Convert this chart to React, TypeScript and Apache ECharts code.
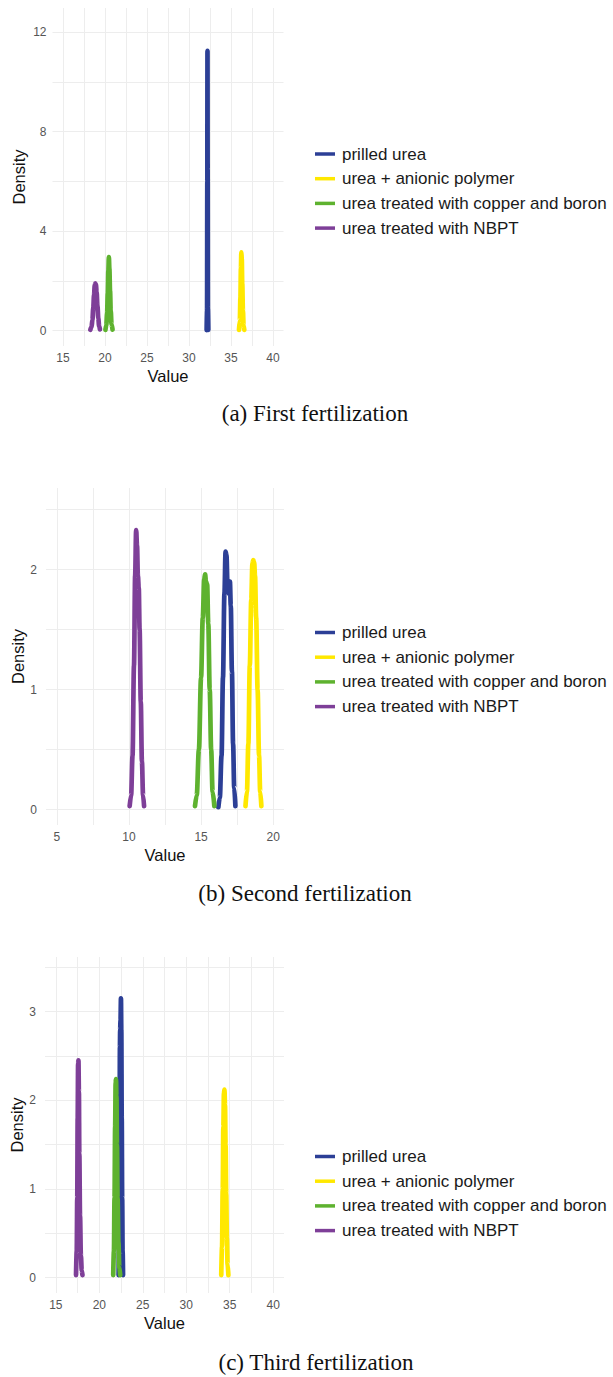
import React, { useEffect, useRef } from "react";
import * as echarts from "echarts";

// Treatment names (legend order) and colours
const treatments = [
  "prilled urea",
  "urea + anionic polymer",
  "urea treated with copper and boron",
  "urea treated with NBPT",
];
const colors = ["#2C3F96", "#FFE800", "#5EB22F", "#7E3F98"];

// Estimated density curves, [value, density]
// (a) First fertilization
const firstPrilled: number[][] = [
  [32.1, 0.02], [32.15, 0.8], [32.18, 6.0], [32.2, 11.25], [32.22, 6.5], [32.25, 0.9], [32.3, 0.03],
];
const firstPolymer: number[][] = [
  [35.95, 0.03], [36.05, 0.4], [36.12, 1.3], [36.18, 2.5], [36.23, 3.15], [36.28, 2.9],
  [36.34, 1.9], [36.42, 0.8], [36.5, 0.2], [36.58, 0.03],
];
const firstCopper: number[][] = [
  [20.05, 0.03], [20.15, 0.2], [20.25, 0.7], [20.33, 1.5], [20.4, 2.4], [20.46, 2.95],
  [20.52, 2.5], [20.6, 1.6], [20.68, 0.8], [20.78, 0.25], [20.9, 0.04],
];
const firstNBPT: number[][] = [
  [18.25, 0.03], [18.4, 0.15], [18.5, 0.42], [18.6, 0.9], [18.7, 1.45], [18.78, 1.82],
  [18.85, 1.9], [18.92, 1.84], [19.0, 1.55], [19.1, 1.0], [19.2, 0.5], [19.3, 0.18], [19.4, 0.05],
];

// (b) Second fertilization
const secondPrilled: number[][] = [
  [16.2, 0.02], [16.3, 0.1], [16.42, 0.45], [16.52, 1.1], [16.62, 1.8], [16.7, 2.15],
  [16.76, 2.12], [16.84, 1.85], [16.92, 1.8], [17.0, 1.9], [17.06, 1.7], [17.14, 1.15],
  [17.22, 0.55], [17.3, 0.18], [17.38, 0.03],
];
const secondPolymer: number[][] = [
  [18.08, 0.03], [18.18, 0.15], [18.28, 0.55], [18.38, 1.2], [18.48, 1.75], [18.56, 2.05],
  [18.62, 2.08], [18.68, 2.06], [18.74, 1.95], [18.82, 1.6], [18.92, 1.0], [19.02, 0.45],
  [19.1, 0.15], [19.18, 0.03],
];
const secondCopper: number[][] = [
  [14.58, 0.03], [14.7, 0.12], [14.85, 0.5], [15.0, 1.1], [15.12, 1.6], [15.22, 1.92],
  [15.28, 1.96], [15.34, 1.9], [15.42, 1.88], [15.5, 1.55], [15.6, 1.0], [15.7, 0.5],
  [15.8, 0.15], [15.92, 0.03],
];
const secondNBPT: number[][] = [
  [10.05, 0.03], [10.15, 0.12], [10.25, 0.45], [10.35, 1.2], [10.43, 1.95], [10.5, 2.33],
  [10.56, 2.2], [10.62, 1.95], [10.68, 1.85], [10.74, 1.5], [10.82, 0.9], [10.9, 0.4],
  [10.98, 0.12], [11.05, 0.03],
];

// (c) Third fertilization
const thirdPrilled: number[][] = [
  [22.22, 0.03], [22.28, 0.4], [22.33, 1.4], [22.37, 2.6], [22.4, 2.8], [22.44, 2.9],
  [22.49, 3.15], [22.53, 2.8], [22.58, 1.8], [22.63, 0.9], [22.68, 0.3], [22.73, 0.03],
];
const thirdPolymer: number[][] = [
  [34.03, 0.03], [34.12, 0.35], [34.2, 1.0], [34.27, 1.7], [34.34, 2.08], [34.4, 2.12],
  [34.46, 1.95], [34.53, 1.5], [34.6, 0.95], [34.68, 0.45], [34.76, 0.15], [34.85, 0.03],
];
const thirdCopper: number[][] = [
  [21.6, 0.03], [21.68, 0.3], [21.75, 0.9], [21.82, 1.7], [21.88, 2.2], [21.92, 2.24],
  [21.97, 2.05], [22.03, 1.5], [22.1, 0.9], [22.2, 0.4], [22.3, 0.12], [22.4, 0.03],
];
const thirdNBPT: number[][] = [
  [17.32, 0.03], [17.4, 0.3], [17.46, 0.9], [17.51, 1.8], [17.56, 2.42], [17.6, 2.45],
  [17.65, 2.1], [17.7, 1.4], [17.78, 0.7], [17.88, 0.25], [17.98, 0.08], [18.06, 0.03],
];

// Axis ticks: labelled values and grid-line values
const xTicksWide = [15, 20, 25, 30, 35, 40];
const xGridWide = [15, 17.5, 20, 22.5, 25, 27.5, 30, 32.5, 35, 37.5, 40];
const xTicksNarrow = [5, 10, 15, 20];
const xGridNarrow = [5, 7.5, 10, 12.5, 15, 17.5, 20];
const yTicksFirst = [0, 4, 8, 12];
const yGridFirst = [0, 2, 4, 6, 8, 10, 12];
const yTicksSecond = [0, 1, 2];
const yGridSecond = [0, 0.5, 1, 1.5, 2, 2.5];
const yTicksThird = [0, 1, 2, 3];
const yGridThird = [0, 0.5, 1, 1.5, 2, 2.5, 3, 3.5];

const captions = ["(a) First fertilization", "(b) Second fertilization", "(c) Third fertilization"];

const panels = [
  {
    curves: [firstPrilled, firstPolymer, firstCopper, firstNBPT],
    grid: { left: 52.5, top: 8, width: 231, height: 338 },
    x: { min: 13.75, max: 41.25, ticks: xTicksWide, grid: xGridWide },
    y: { min: -0.62, max: 12.97, ticks: yTicksFirst, grid: yGridFirst, margin: 6 },
    legendTop: 140.5,
    captionTop: 401.5,
    captionX: 315,
  },
  {
    curves: [secondPrilled, secondPolymer, secondCopper, secondNBPT],
    grid: { left: 46, top: 488, width: 238, height: 337 },
    x: { min: 4.25, max: 20.75, ticks: xTicksNarrow, grid: xGridNarrow },
    y: { min: -0.128, max: 2.68, ticks: yTicksSecond, grid: yGridSecond, margin: 9 },
    legendTop: 619,
    captionTop: 881.5,
    captionX: 305,
  },
  {
    curves: [thirdPrilled, thirdPolymer, thirdCopper, thirdNBPT],
    grid: { left: 45, top: 957, width: 239, height: 336 },
    x: { min: 13.75, max: 41.25, ticks: xTicksWide, grid: xGridWide },
    y: { min: -0.172, max: 3.615, ticks: yTicksThird, grid: yGridThird, margin: 9 },
    legendTop: 1143,
    captionTop: 1350.5,
    captionX: 316,
  },
];

const sans = "'Liberation Sans', Arial, Helvetica, sans-serif";
const serif = "'Liberation Serif', 'Times New Roman', serif";
const gridColor = "#EDEDED";

export default function App() {
  const ref = useRef<HTMLDivElement>(null);

  useEffect(() => {
    document.body.style.margin = "0";
    if (!ref.current) return;
    const chart = echarts.init(ref.current, null, { renderer: "svg" });

    const grids = panels.map((p) => ({ ...p.grid, containLabel: false }));
    const xAxes = panels.map((p, i) => ({
      type: "value",
      gridIndex: i,
      min: p.x.min,
      max: p.x.max,
      name: "Value",
      nameLocation: "middle",
      nameGap: 21,
      nameTextStyle: { fontFamily: sans, fontSize: 16.5, color: "#111" },
      axisLine: { show: false },
      axisTick: { show: false, customValues: p.x.grid },
      axisLabel: {
        customValues: p.x.ticks,
        margin: 6,
        fontFamily: sans,
        fontSize: 12,
        color: "#555",
      },
      splitLine: { show: true, lineStyle: { color: gridColor, width: 1 } },
    }));
    const yAxes = panels.map((p, i) => ({
      type: "value",
      gridIndex: i,
      min: p.y.min,
      max: p.y.max,
      name: "Density",
      nameLocation: "middle",
      nameGap: i === 0 ? 25 : 19,
      nameTextStyle: { fontFamily: sans, fontSize: 16.5, color: "#111" },
      axisLine: { show: false },
      axisTick: { show: false, customValues: p.y.grid },
      axisLabel: {
        customValues: p.y.ticks,
        margin: p.y.margin,
        fontFamily: sans,
        fontSize: 12,
        color: "#555",
      },
      splitLine: { show: true, lineStyle: { color: gridColor, width: 1 } },
    }));

    const series: any[] = [];
    panels.forEach((p, i) => {
      p.curves.forEach((curve, k) => {
        series.push({
          type: "line",
          name: treatments[k],
          xAxisIndex: i,
          yAxisIndex: i,
          data: curve,
          showSymbol: false,
          smooth: 0.35,
          smoothMonotone: "x",
          color: colors[k],
          lineStyle: { width: 4.7, color: colors[k], cap: "round", join: "round" },
          emphasis: { disabled: true },
        });
      });
    });

    const legends = panels.map((p) => ({
      data: treatments,
      orient: "vertical",
      left: 310,
      top: p.legendTop,
      icon: "rect",
      itemWidth: 20,
      itemHeight: 3.5,
      itemGap: 7.7,
      selectedMode: false,
      textStyle: {
        fontFamily: sans,
        fontSize: 17,
        lineHeight: 17,
        color: "#1a1a1a",
        padding: [0, 0, 0, 2],
      },
    }));

    const titles = panels.map((p, i) => ({
      text: captions[i],
      left: p.captionX,
      top: p.captionTop,
      textAlign: "center",
      padding: 0,
      textStyle: { fontFamily: serif, fontSize: 23, fontWeight: "normal", color: "#111" },
    }));

    chart.setOption({
      animation: false,
      backgroundColor: "#ffffff",
      title: titles,
      legend: legends,
      grid: grids,
      xAxis: xAxes,
      yAxis: yAxes,
      series,
    });

    return () => chart.dispose();
  }, []);

  return <div ref={ref} style={{ width: 613, height: 1377 }} />;
}
